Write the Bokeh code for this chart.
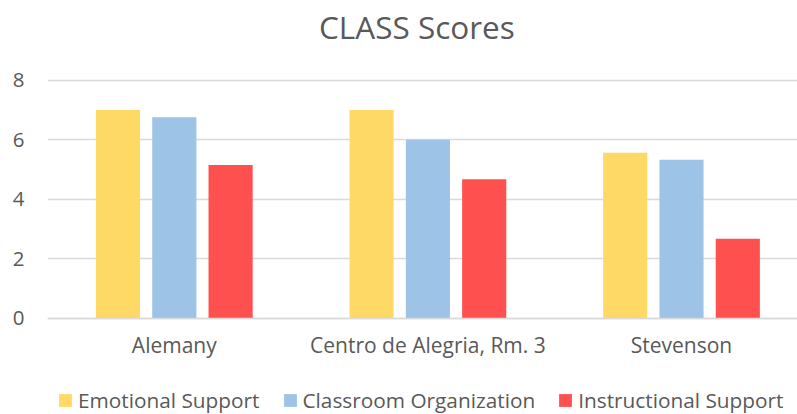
from bokeh.plotting import figure
from bokeh.models import ColumnDataSource, FixedTicker, Range1d, Legend, LegendItem
from bokeh.core.properties import value
from bokeh.transform import dodge
from bokeh.embed import file_html
from bokeh.resources import INLINE

# ---- data ----
title_text = "CLASS Scores"
categories = ["Alemany", "Centro de Alegria, Rm. 3", "Stevenson"]
series_names = ["Emotional Support", "Classroom Organization", "Instructional Support"]
emotional = [7.0, 7.0, 5.56]
classroom = [6.75, 6.0, 5.33]
instructional = [5.15, 4.67, 2.67]
y_ticks = [0, 2, 4, 6, 8]
colors = ["#FFD966", "#9DC3E6", "#FF5050"]

FONT = "Open Sans"
TXT = "#595959"
GRID = "#D9D9D9"

xs = list(range(len(categories)))
source = ColumnDataSource(dict(x=xs, emotional=emotional, classroom=classroom,
                               instructional=instructional))

# frame spans the full height (29.76 px per unit, value 0 at y=317.7 px)
p = figure(width=797, height=414, output_backend="svg", toolbar_location=None,
           x_range=Range1d(-0.5, 2.4574), y_range=Range1d(-3.236, 10.678),
           min_border_left=47, min_border_right=0, min_border_top=0,
           min_border_bottom=0)
p.outline_line_color = None
p.background_fill_color = "white"
p.border_fill_color = "white"

fields = ["emotional", "classroom", "instructional"]
offsets = [-0.222, 0.0, 0.222]
renderers = []
for f, off, c in zip(fields, offsets, colors):
    r = p.vbar(x=dodge("x", off), top=f, width=0.174, bottom=0, source=source,
               fill_color=c, line_color=None)
    renderers.append(r)

# chart title, placed above the top gridline
p.text(x=[sum(xs) / len(xs)], y=[y_ticks[-1]], text=[title_text],
       x_offset=-11, y_offset=-54, text_align="center", text_baseline="alphabetic",
       text_font=value(FONT), text_font_size=value("31.5px"), text_color=TXT)

# axes
p.xaxis.fixed_location = 0
p.xaxis.ticker = FixedTicker(ticks=xs)
p.xaxis.major_label_overrides = {i: c for i, c in enumerate(categories)}
p.xaxis.major_tick_out = 0
p.xaxis.major_tick_in = 0
p.xaxis.minor_tick_out = 0
p.xaxis.minor_tick_in = 0
p.xaxis.axis_line_color = GRID
p.xaxis.axis_line_width = 1.3
p.xaxis.major_label_text_font = FONT
p.xaxis.major_label_text_font_size = "21px"
p.xaxis.major_label_text_color = TXT
p.xaxis.major_label_standoff = 13

p.yaxis.ticker = FixedTicker(ticks=y_ticks)
p.yaxis.major_tick_out = 0
p.yaxis.major_tick_in = 0
p.yaxis.minor_tick_out = 0
p.yaxis.minor_tick_in = 0
p.yaxis.axis_line_color = None
p.yaxis.major_label_text_font = FONT
p.yaxis.major_label_text_font_size = "20.5px"
p.yaxis.major_label_text_color = TXT
p.yaxis.major_label_standoff = 23

p.xgrid.grid_line_color = None
p.ygrid.grid_line_color = GRID
p.ygrid.grid_line_width = 1.3

legend = Legend(items=[LegendItem(label=n, renderers=[r]) for n, r in zip(series_names, renderers)],
                orientation="horizontal", location=(10, 0),
                glyph_width=16, glyph_height=16, label_standoff=5, spacing=22,
                padding=0, margin=0,
                label_text_font=FONT, label_text_font_size="20.8px", label_text_color=TXT,
                border_line_color=None, background_fill_alpha=0)
p.add_layout(legend, "center")

open("out.html", "w").write(file_html(p, INLINE))
